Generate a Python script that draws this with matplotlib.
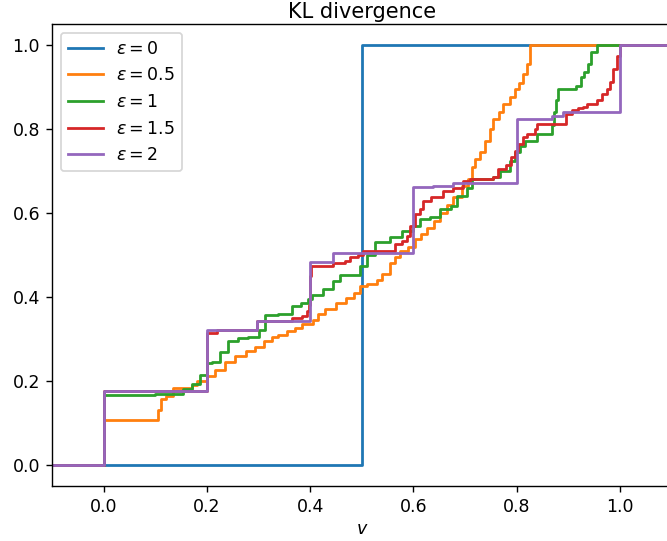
import matplotlib
matplotlib.use("Agg")
import matplotlib.pyplot as plt

labels = [r"$\epsilon = 0$", r"$\epsilon = 0.5$", r"$\epsilon = 1$", r"$\epsilon = 1.5$", r"$\epsilon = 2$"]

x_eps0 = [-0.1, 0.5, 1.1]
y_eps0 = [0.0, 1.0, 1.0]

x_eps05 = [-0.1, 0.0, 0.105, 0.11, 0.12, 0.135, 0.17, 0.18, 0.2, 0.215, 0.235, 0.255, 0.275, 0.293,
           0.31, 0.325, 0.338, 0.355, 0.37, 0.385, 0.405, 0.415, 0.429, 0.45, 0.47, 0.485, 0.497,
           0.51, 0.529, 0.54, 0.555, 0.565, 0.574, 0.59, 0.603, 0.615, 0.626, 0.64, 0.652, 0.665,
           0.677, 0.694, 0.705, 0.713, 0.72, 0.73, 0.739, 0.748, 0.755, 0.765, 0.774, 0.787, 0.797,
           0.805, 0.813, 0.82, 0.826, 1.1]
y_eps05 = [0.0, 0.108, 0.131, 0.157, 0.165, 0.183, 0.19, 0.2, 0.211, 0.225, 0.245, 0.26, 0.272, 0.282,
           0.295, 0.305, 0.31, 0.32, 0.327, 0.335, 0.346, 0.36, 0.372, 0.385, 0.398, 0.41, 0.426,
           0.432, 0.44, 0.455, 0.482, 0.495, 0.509, 0.52, 0.537, 0.55, 0.565, 0.582, 0.60, 0.62,
           0.637, 0.664, 0.68, 0.709, 0.728, 0.744, 0.772, 0.80, 0.823, 0.84, 0.859, 0.876, 0.895,
           0.91, 0.931, 0.955, 1.0, 1.0]

x_eps1 = [-0.1, 0.0, 0.1, 0.153, 0.17, 0.186, 0.2, 0.209, 0.225, 0.241, 0.26, 0.28, 0.30, 0.312,
          0.338, 0.364, 0.383, 0.395, 0.403, 0.425, 0.444, 0.458, 0.497, 0.51, 0.526, 0.555, 0.577,
          0.6, 0.613, 0.632, 0.652, 0.672, 0.684, 0.703, 0.713, 0.755, 0.768, 0.787, 0.797, 0.806,
          0.816, 0.839, 0.868, 0.872, 0.876, 0.88, 0.915, 0.925, 0.93, 0.938, 0.945, 0.956, 1.1]
y_eps1 = [0.0, 0.167, 0.17, 0.181, 0.193, 0.215, 0.243, 0.245, 0.27, 0.294, 0.303, 0.305, 0.322, 0.358,
          0.36, 0.378, 0.386, 0.395, 0.405, 0.418, 0.437, 0.453, 0.473, 0.501, 0.53, 0.542, 0.557,
          0.569, 0.585, 0.59, 0.609, 0.617, 0.64, 0.66, 0.68, 0.685, 0.70, 0.724, 0.744, 0.76,
          0.772, 0.788, 0.81, 0.84, 0.87, 0.895, 0.903, 0.923, 0.935, 0.955, 0.983, 1.0, 1.0]

x_eps15 = [-0.1, 0.0, 0.2, 0.219, 0.296, 0.364, 0.385, 0.393, 0.397, 0.4, 0.402, 0.444, 0.467, 0.477,
           0.493, 0.502, 0.564, 0.577, 0.587, 0.593, 0.603, 0.613, 0.619, 0.635, 0.657, 0.677, 0.696,
           0.71, 0.755, 0.764, 0.78, 0.79, 0.797, 0.803, 0.813, 0.82, 0.836, 0.839, 0.895, 0.907,
           0.919, 0.929, 0.936, 0.955, 0.965, 0.975, 0.981, 0.987, 0.994, 1.0, 1.1]
y_eps15 = [0.0, 0.175, 0.315, 0.322, 0.342, 0.35, 0.354, 0.366, 0.382, 0.449, 0.473, 0.482, 0.485, 0.494,
           0.499, 0.509, 0.525, 0.533, 0.545, 0.569, 0.597, 0.609, 0.628, 0.637, 0.652, 0.66, 0.676,
           0.68, 0.685, 0.704, 0.714, 0.733, 0.748, 0.764, 0.78, 0.788, 0.80, 0.811, 0.835, 0.845,
           0.85, 0.853, 0.859, 0.869, 0.883, 0.895, 0.912, 0.943, 0.974, 1.0, 1.0]

x_eps2 = [-0.1, 0.0, 0.2, 0.296, 0.4, 0.445, 0.6, 0.638, 0.677, 0.8, 0.868, 0.89, 1.0, 1.1]
y_eps2 = [0.0, 0.177, 0.322, 0.342, 0.483, 0.505, 0.661, 0.665, 0.671, 0.823, 0.831, 0.84, 1.0, 1.0]

series = [(x_eps0, y_eps0), (x_eps05, y_eps05), (x_eps1, y_eps1), (x_eps15, y_eps15), (x_eps2, y_eps2)]
colors = ["#1f77b4", "#ff7f0e", "#2ca02c", "#d62728", "#9467bd"]

DPI = 125
fig = plt.figure(figsize=(667 / DPI, 541 / DPI), dpi=DPI)
ax = fig.add_axes([0.0783, 0.1017, 0.9283, 0.8540])
for (xs, ys), lab, c in zip(series, labels, colors):
    ax.plot(xs, ys, drawstyle="steps-post", color=c, label=lab, linewidth=1.6)

ax.set_xlim(-0.1, 1.1)
ax.set_ylim(-0.05, 1.05)
ax.set_xticks([0.0, 0.2, 0.4, 0.6, 0.8, 1.0])
ax.set_yticks([0.0, 0.2, 0.4, 0.6, 0.8, 1.0])
ax.set_xlabel("$v$", labelpad=2)
ax.set_title("KL divergence", pad=3.5)
ax.legend(loc="upper left")

fig.savefig("out.png", dpi=DPI)
